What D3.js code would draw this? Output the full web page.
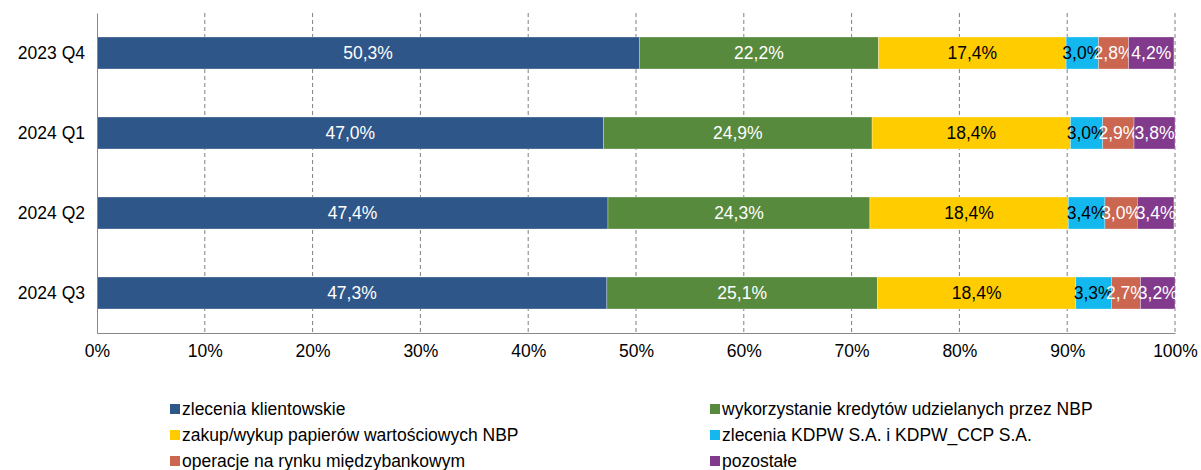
<!DOCTYPE html>
<html>
<head>
<meta charset="utf-8">
<script src="https://cdn.jsdelivr.net/npm/d3@7"></script>
<style>
  body { margin: 0; background: #fff; }
  text { font-family: "Liberation Sans", Arial, sans-serif; }
</style>
</head>
<body>
<div id="chart"></div>
<script>
const quarters = ['2023 Q4', '2024 Q1', '2024 Q2', '2024 Q3'];
const seriesNames = [
  'zlecenia klientowskie',
  'wykorzystanie kredytów udzielanych przez NBP',
  'zakup/wykup papierów wartościowych NBP',
  'zlecenia KDPW S.A. i KDPW_CCP S.A.',
  'operacje na rynku międzybankowym',
  'pozostałe'
];
const klientowskie = [50.3, 47.0, 47.4, 47.3];
const kredyty = [22.2, 24.9, 24.3, 25.1];
const papiery = [17.4, 18.4, 18.4, 18.4];
const kdpw = [3.0, 3.0, 3.4, 3.3];
const miedzybank = [2.8, 2.9, 3.0, 2.7];
const pozostale = [4.2, 3.8, 3.4, 3.2];
const xTicks = [0, 10, 20, 30, 40, 50, 60, 70, 80, 90, 100];

const seriesValues = [klientowskie, kredyty, papiery, kdpw, miedzybank, pozostale];
const colors = ['#2f5689', '#588a3e', '#ffcc00', '#13b9ee', '#cb6650', '#823a8c'];
const labelColors = ['#fff', '#fff', '#000', '#000', '#fff', '#fff'];

const width = 1201, height = 470;
const margin = {top: 13, left: 97, right: 26, bottom: 137};
const innerW = width - margin.left - margin.right;
const innerH = height - margin.top - margin.bottom;
const fontSize = '17.5px';

const svg = d3.select('#chart').append('svg')
  .attr('width', width)
  .attr('height', height);

const g = svg.append('g')
  .attr('transform', `translate(${margin.left},${margin.top})`);

const x = d3.scaleLinear().domain([0, 100]).range([0, innerW]);
const y = d3.scaleBand().domain(quarters).range([0, innerH]).paddingInner(0.6).paddingOuter(0.3);

// rows for stacking
const rows = quarters.map((q, i) => {
  const r = {q: q};
  seriesNames.forEach((s, j) => { r[s] = seriesValues[j][i]; });
  return r;
});
const stacked = d3.stack().keys(seriesNames)(rows);

// gridlines
g.append('g')
  .selectAll('line')
  .data(xTicks.filter(d => d > 0))
  .join('line')
  .attr('x1', d => x(d)).attr('x2', d => x(d))
  .attr('y1', 0).attr('y2', innerH)
  .attr('stroke', '#7f7f7f')
  .attr('stroke-width', 1)
  .attr('stroke-dasharray', '4,3');

// bars
const layers = g.selectAll('.layer')
  .data(stacked)
  .join('g')
  .attr('class', 'layer')
  .attr('fill', (d, i) => colors[i]);

layers.selectAll('rect')
  .data(d => d)
  .join('rect')
  .attr('x', d => x(d[0]))
  .attr('width', d => x(d[1]) - x(d[0]))
  .attr('y', d => y(d.data.q))
  .attr('height', y.bandwidth())
  .attr('stroke', 'rgba(255,255,255,0.6)')
  .attr('stroke-width', 0.5);

layers.each(function(layer, i) {
  d3.select(this).selectAll('text')
    .data(layer)
    .join('text')
    .attr('x', d => (x(d[0]) + x(d[1])) / 2)
    .attr('y', d => y(d.data.q) + y.bandwidth() / 2)
    .attr('dy', '0.35em')
    .attr('text-anchor', 'middle')
    .attr('fill', labelColors[i])
    .style('font-size', fontSize)
    .text(d => (d[1] - d[0]).toFixed(1).replace('.', ',') + '%');
});

// axes
const xAxis = g.append('g')
  .attr('transform', `translate(0,${innerH})`)
  .call(d3.axisBottom(x).tickValues(xTicks).tickSize(0).tickPadding(12).tickFormat(d => d + '%'));
xAxis.select('.domain').attr('stroke', '#888');
xAxis.selectAll('text').style('font-size', fontSize).attr('fill', '#000');

const yAxis = g.append('g')
  .call(d3.axisLeft(y).tickSize(0).tickPadding(12));
yAxis.select('.domain').attr('stroke', '#888');
yAxis.selectAll('text').style('font-size', fontSize).attr('fill', '#000');

// legend
const legendPos = [[170, 409], [710, 409], [170, 435], [710, 435], [170, 461], [710, 461]];
const legend = svg.append('g')
  .selectAll('g')
  .data(seriesNames)
  .join('g')
  .attr('transform', (d, i) => `translate(${legendPos[i][0]},${legendPos[i][1]})`);

legend.append('rect')
  .attr('x', 0).attr('y', -5)
  .attr('width', 10).attr('height', 10)
  .attr('fill', (d, i) => colors[i]);

legend.append('text')
  .attr('x', 12)
  .attr('dy', '0.35em')
  .style('font-size', fontSize)
  .attr('fill', '#000')
  .text(d => d);
</script>
</body>
</html>
